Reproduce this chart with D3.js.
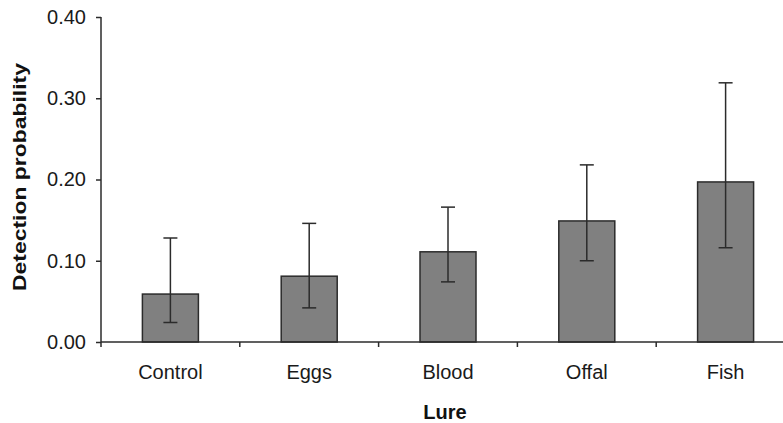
<!DOCTYPE html>
<html>
<head>
<meta charset="utf-8">
<script src="https://cdn.jsdelivr.net/npm/d3@7"></script>
<style>
  body { margin: 0; background: #fff; }
  svg { display: block; font-family: "Liberation Sans", Arial, sans-serif; }
</style>
</head>
<body>
<div id="chart"></div>
<script>
const lures = ['Control', 'Eggs', 'Blood', 'Offal', 'Fish'];
const probability = [0.059, 0.081, 0.111, 0.149, 0.197];
const upper = [0.128, 0.146, 0.166, 0.218, 0.319];
const lower = [0.024, 0.042, 0.074, 0.100, 0.116];
const yTicks = [0, 0.1, 0.2, 0.3, 0.4];

const width = 783, height = 423;
const margin = {top: 17, right: -12, bottom: 81, left: 101};

const svg = d3.select('#chart').append('svg')
    .attr('width', width)
    .attr('height', height);

const x = d3.scaleBand()
    .domain(lures)
    .range([margin.left, width - margin.right])
    .paddingInner(0)
    .paddingOuter(0);

const y = d3.scaleLinear()
    .domain([0, 0.4])
    .range([height - margin.bottom, margin.top]);

const barW = 56;
const capW = 14;
const ink = '#2b2b2b';

// bars
svg.append('g')
  .selectAll('rect')
    .data(lures)
  .enter().append('rect')
    .attr('x', d => x(d) + x.bandwidth() / 2 - barW / 2)
    .attr('y', (d, i) => y(probability[i]))
    .attr('width', barW)
    .attr('height', (d, i) => y(0) - y(probability[i]))
    .attr('fill', '#808080')
    .attr('stroke', ink)
    .attr('stroke-width', 1.5);

// error bars
const err = svg.append('g')
    .attr('stroke', ink)
    .attr('stroke-width', 1.5);

lures.forEach((d, i) => {
  const cx = x(d) + x.bandwidth() / 2;
  err.append('line')
      .attr('x1', cx).attr('x2', cx)
      .attr('y1', y(lower[i])).attr('y2', y(upper[i]));
  [upper[i], lower[i]].forEach(v => {
    err.append('line')
        .attr('x1', cx - capW / 2).attr('x2', cx + capW / 2)
        .attr('y1', y(v)).attr('y2', y(v));
  });
});

// y axis
const yAxis = svg.append('g')
    .attr('transform', `translate(${margin.left},0)`)
    .call(d3.axisLeft(y).tickValues(yTicks).tickFormat(d3.format('.2f')).tickSize(5).tickPadding(10));

yAxis.select('.domain')
    .attr('d', `M0,${y(0.4)}V${y(0) + 5}`);

// x axis with ticks on category boundaries
const xAxis = svg.append('g')
    .attr('transform', `translate(0,${y(0)})`)
    .call(d3.axisBottom(x).tickSize(0).tickPadding(23));

xAxis.select('.domain')
    .attr('d', `M${margin.left},0H${width - margin.right}`);

xAxis.selectAll('.bound')
    .data(lures.slice(1))
  .enter().append('line')
    .attr('class', 'bound')
    .attr('x1', d => x(d)).attr('x2', d => x(d))
    .attr('y1', 0).attr('y2', 5)
    .attr('stroke', ink)
    .attr('stroke-width', 1.5);

svg.selectAll('.domain, .tick line')
    .attr('stroke', ink)
    .attr('stroke-width', 1.5);

svg.selectAll('.tick text')
    .attr('fill', '#1a1a1a')
    .style('font-size', '20px');

// axis titles
svg.append('text')
    .attr('x', 445)
    .attr('y', 419)
    .attr('text-anchor', 'middle')
    .style('font-size', '20px')
    .style('font-weight', 'bold')
    .attr('fill', '#111')
    .text('Lure');

svg.append('text')
    .attr('transform', 'translate(26,177) rotate(-90)')
    .attr('text-anchor', 'middle')
    .attr('textLength', 228)
    .attr('lengthAdjust', 'spacingAndGlyphs')
    .style('font-size', '19px')
    .style('font-weight', 'bold')
    .attr('fill', '#111')
    .text('Detection probability');
</script>
</body>
</html>
